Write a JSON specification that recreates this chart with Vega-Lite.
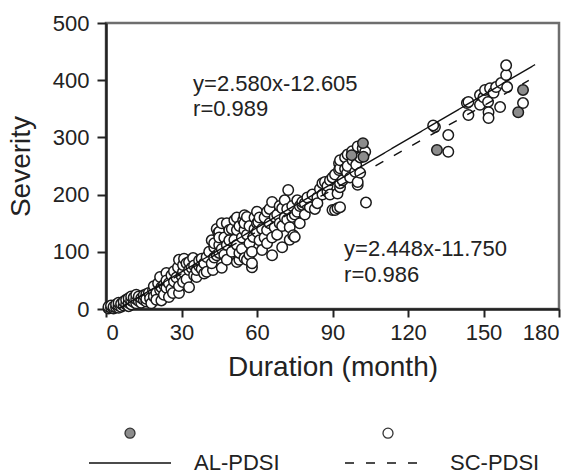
{
  "$schema": "https://vega.github.io/schema/vega-lite/v6.json",
  "width": 453,
  "height": 286,
  "autosize": "none",
  "padding": {"left": 106, "top": 23, "right": 17, "bottom": 165},
  "config": {
    "font": "Liberation Sans",
    "view": {"stroke": "#6e6e6e", "strokeWidth": 2.5},
    "axis": {
      "grid": false,
      "domainColor": "#222222",
      "domainWidth": 2.5,
      "tickColor": "#222222",
      "tickWidth": 2,
      "tickSize": 9,
      "labelFont": "Liberation Sans",
      "labelFontSize": 22,
      "labelColor": "#222222",
      "titleFont": "Liberation Sans",
      "titleFontSize": 28,
      "titleFontWeight": "normal",
      "titleColor": "#222222"
    },
    "legend": {"padding": 0, "labelFont": "Liberation Sans"}
  },
  "datasets": {
    "pts": [
      {"duration": 1, "severity": 1, "index": "SC-PDSI"},
      {"duration": 1, "severity": 4, "index": "SC-PDSI"},
      {"duration": 2, "severity": 2, "index": "SC-PDSI"},
      {"duration": 2, "severity": 6, "index": "SC-PDSI"},
      {"duration": 3, "severity": 1, "index": "SC-PDSI"},
      {"duration": 3, "severity": 4, "index": "SC-PDSI"},
      {"duration": 4, "severity": 3, "index": "SC-PDSI"},
      {"duration": 4, "severity": 8, "index": "SC-PDSI"},
      {"duration": 5, "severity": 2, "index": "SC-PDSI"},
      {"duration": 5, "severity": 6, "index": "SC-PDSI"},
      {"duration": 5, "severity": 11, "index": "SC-PDSI"},
      {"duration": 6, "severity": 4, "index": "SC-PDSI"},
      {"duration": 6, "severity": 9, "index": "SC-PDSI"},
      {"duration": 7, "severity": 6, "index": "SC-PDSI"},
      {"duration": 7, "severity": 13, "index": "SC-PDSI"},
      {"duration": 8, "severity": 8, "index": "SC-PDSI"},
      {"duration": 8, "severity": 16, "index": "SC-PDSI"},
      {"duration": 9, "severity": 5, "index": "SC-PDSI"},
      {"duration": 9, "severity": 11, "index": "SC-PDSI"},
      {"duration": 9, "severity": 19, "index": "SC-PDSI"},
      {"duration": 10, "severity": 8, "index": "SC-PDSI"},
      {"duration": 10, "severity": 15, "index": "SC-PDSI"},
      {"duration": 10, "severity": 22, "index": "SC-PDSI"},
      {"duration": 11, "severity": 12, "index": "SC-PDSI"},
      {"duration": 11, "severity": 20, "index": "SC-PDSI"},
      {"duration": 12, "severity": 10, "index": "SC-PDSI"},
      {"duration": 12, "severity": 17, "index": "SC-PDSI"},
      {"duration": 12, "severity": 25, "index": "SC-PDSI"},
      {"duration": 13, "severity": 14, "index": "SC-PDSI"},
      {"duration": 13, "severity": 22, "index": "SC-PDSI"},
      {"duration": 14, "severity": 11, "index": "SC-PDSI"},
      {"duration": 14, "severity": 19, "index": "SC-PDSI"},
      {"duration": 15, "severity": 16, "index": "SC-PDSI"},
      {"duration": 15, "severity": 24, "index": "SC-PDSI"},
      {"duration": 16, "severity": 13, "index": "SC-PDSI"},
      {"duration": 16, "severity": 26, "index": "SC-PDSI"},
      {"duration": 16, "severity": 18, "index": "SC-PDSI"},
      {"duration": 17, "severity": 28, "index": "SC-PDSI"},
      {"duration": 17.5, "severity": 19, "index": "SC-PDSI"},
      {"duration": 18, "severity": 10, "index": "SC-PDSI"},
      {"duration": 18.7, "severity": 33, "index": "SC-PDSI"},
      {"duration": 19, "severity": 22, "index": "SC-PDSI"},
      {"duration": 19, "severity": 40, "index": "SC-PDSI"},
      {"duration": 20, "severity": 28, "index": "SC-PDSI"},
      {"duration": 20, "severity": 16, "index": "SC-PDSI"},
      {"duration": 20.7, "severity": 45, "index": "SC-PDSI"},
      {"duration": 21.5, "severity": 33, "index": "SC-PDSI"},
      {"duration": 21.5, "severity": 56, "index": "SC-PDSI"},
      {"duration": 22, "severity": 15, "index": "SC-PDSI"},
      {"duration": 22, "severity": 38, "index": "SC-PDSI"},
      {"duration": 23, "severity": 42, "index": "SC-PDSI"},
      {"duration": 23, "severity": 25, "index": "SC-PDSI"},
      {"duration": 24, "severity": 37, "index": "SC-PDSI"},
      {"duration": 24, "severity": 63, "index": "SC-PDSI"},
      {"duration": 24, "severity": 50, "index": "SC-PDSI"},
      {"duration": 25, "severity": 21, "index": "SC-PDSI"},
      {"duration": 25, "severity": 45, "index": "SC-PDSI"},
      {"duration": 26, "severity": 59, "index": "SC-PDSI"},
      {"duration": 26, "severity": 35, "index": "SC-PDSI"},
      {"duration": 26.6, "severity": 28, "index": "SC-PDSI"},
      {"duration": 27, "severity": 48, "index": "SC-PDSI"},
      {"duration": 27, "severity": 66, "index": "SC-PDSI"},
      {"duration": 28, "severity": 55, "index": "SC-PDSI"},
      {"duration": 28.6, "severity": 73, "index": "SC-PDSI"},
      {"duration": 29, "severity": 28, "index": "SC-PDSI"},
      {"duration": 29, "severity": 86, "index": "SC-PDSI"},
      {"duration": 29, "severity": 40, "index": "SC-PDSI"},
      {"duration": 30, "severity": 58, "index": "SC-PDSI"},
      {"duration": 30.6, "severity": 65, "index": "SC-PDSI"},
      {"duration": 30.6, "severity": 47, "index": "SC-PDSI"},
      {"duration": 30.6, "severity": 77, "index": "SC-PDSI"},
      {"duration": 31, "severity": 88, "index": "SC-PDSI"},
      {"duration": 32, "severity": 80, "index": "SC-PDSI"},
      {"duration": 32, "severity": 52, "index": "SC-PDSI"},
      {"duration": 33, "severity": 38, "index": "SC-PDSI"},
      {"duration": 33, "severity": 68, "index": "SC-PDSI"},
      {"duration": 33, "severity": 82, "index": "SC-PDSI"},
      {"duration": 34, "severity": 72, "index": "SC-PDSI"},
      {"duration": 34.6, "severity": 89, "index": "SC-PDSI"},
      {"duration": 35, "severity": 59, "index": "SC-PDSI"},
      {"duration": 35, "severity": 76, "index": "SC-PDSI"},
      {"duration": 36, "severity": 56, "index": "SC-PDSI"},
      {"duration": 36, "severity": 68, "index": "SC-PDSI"},
      {"duration": 37, "severity": 75, "index": "SC-PDSI"},
      {"duration": 37, "severity": 85, "index": "SC-PDSI"},
      {"duration": 38, "severity": 88, "index": "SC-PDSI"},
      {"duration": 38, "severity": 70, "index": "SC-PDSI"},
      {"duration": 39, "severity": 62, "index": "SC-PDSI"},
      {"duration": 39, "severity": 80, "index": "SC-PDSI"},
      {"duration": 40, "severity": 91, "index": "SC-PDSI"},
      {"duration": 40, "severity": 65, "index": "SC-PDSI"},
      {"duration": 41, "severity": 100, "index": "SC-PDSI"},
      {"duration": 42.5, "severity": 68, "index": "SC-PDSI"},
      {"duration": 42, "severity": 80, "index": "SC-PDSI"},
      {"duration": 42, "severity": 120, "index": "SC-PDSI"},
      {"duration": 43, "severity": 108, "index": "SC-PDSI"},
      {"duration": 43, "severity": 115, "index": "SC-PDSI"},
      {"duration": 43, "severity": 90, "index": "SC-PDSI"},
      {"duration": 44, "severity": 94, "index": "SC-PDSI"},
      {"duration": 44, "severity": 140, "index": "SC-PDSI"},
      {"duration": 44.6, "severity": 133, "index": "SC-PDSI"},
      {"duration": 45, "severity": 135, "index": "SC-PDSI"},
      {"duration": 45, "severity": 98, "index": "SC-PDSI"},
      {"duration": 45, "severity": 112, "index": "SC-PDSI"},
      {"duration": 45, "severity": 125, "index": "SC-PDSI"},
      {"duration": 46, "severity": 72, "index": "SC-PDSI"},
      {"duration": 46, "severity": 150, "index": "SC-PDSI"},
      {"duration": 46, "severity": 105, "index": "SC-PDSI"},
      {"duration": 47, "severity": 125, "index": "SC-PDSI"},
      {"duration": 47, "severity": 95, "index": "SC-PDSI"},
      {"duration": 48, "severity": 86, "index": "SC-PDSI"},
      {"duration": 48, "severity": 150, "index": "SC-PDSI"},
      {"duration": 48, "severity": 112, "index": "SC-PDSI"},
      {"duration": 49, "severity": 138, "index": "SC-PDSI"},
      {"duration": 49, "severity": 120, "index": "SC-PDSI"},
      {"duration": 50, "severity": 100, "index": "SC-PDSI"},
      {"duration": 50, "severity": 140, "index": "SC-PDSI"},
      {"duration": 51, "severity": 121, "index": "SC-PDSI"},
      {"duration": 51, "severity": 155, "index": "SC-PDSI"},
      {"duration": 52, "severity": 138, "index": "SC-PDSI"},
      {"duration": 52, "severity": 112, "index": "SC-PDSI"},
      {"duration": 52, "severity": 82, "index": "SC-PDSI"},
      {"duration": 52, "severity": 160, "index": "SC-PDSI"},
      {"duration": 53, "severity": 86, "index": "SC-PDSI"},
      {"duration": 53, "severity": 98, "index": "SC-PDSI"},
      {"duration": 53, "severity": 145, "index": "SC-PDSI"},
      {"duration": 54, "severity": 125, "index": "SC-PDSI"},
      {"duration": 54, "severity": 105, "index": "SC-PDSI"},
      {"duration": 54.5, "severity": 155, "index": "SC-PDSI"},
      {"duration": 55, "severity": 164, "index": "SC-PDSI"},
      {"duration": 55, "severity": 138, "index": "SC-PDSI"},
      {"duration": 55, "severity": 89, "index": "SC-PDSI"},
      {"duration": 55, "severity": 150, "index": "SC-PDSI"},
      {"duration": 56, "severity": 161, "index": "SC-PDSI"},
      {"duration": 56, "severity": 86, "index": "SC-PDSI"},
      {"duration": 56, "severity": 130, "index": "SC-PDSI"},
      {"duration": 57, "severity": 115, "index": "SC-PDSI"},
      {"duration": 57, "severity": 145, "index": "SC-PDSI"},
      {"duration": 57, "severity": 95, "index": "SC-PDSI"},
      {"duration": 58, "severity": 73, "index": "SC-PDSI"},
      {"duration": 58, "severity": 80, "index": "SC-PDSI"},
      {"duration": 58.5, "severity": 126, "index": "SC-PDSI"},
      {"duration": 58, "severity": 100, "index": "SC-PDSI"},
      {"duration": 59, "severity": 140, "index": "SC-PDSI"},
      {"duration": 59, "severity": 160, "index": "SC-PDSI"},
      {"duration": 60, "severity": 170, "index": "SC-PDSI"},
      {"duration": 60, "severity": 150, "index": "SC-PDSI"},
      {"duration": 60, "severity": 135, "index": "SC-PDSI"},
      {"duration": 60.5, "severity": 152, "index": "SC-PDSI"},
      {"duration": 61, "severity": 120, "index": "SC-PDSI"},
      {"duration": 61, "severity": 160, "index": "SC-PDSI"},
      {"duration": 62, "severity": 103, "index": "SC-PDSI"},
      {"duration": 62, "severity": 140, "index": "SC-PDSI"},
      {"duration": 63, "severity": 160, "index": "SC-PDSI"},
      {"duration": 63, "severity": 125, "index": "SC-PDSI"},
      {"duration": 64, "severity": 138, "index": "SC-PDSI"},
      {"duration": 64, "severity": 115, "index": "SC-PDSI"},
      {"duration": 64, "severity": 170, "index": "SC-PDSI"},
      {"duration": 65, "severity": 175, "index": "SC-PDSI"},
      {"duration": 65, "severity": 150, "index": "SC-PDSI"},
      {"duration": 66, "severity": 187, "index": "SC-PDSI"},
      {"duration": 66, "severity": 94, "index": "SC-PDSI"},
      {"duration": 66, "severity": 125, "index": "SC-PDSI"},
      {"duration": 67, "severity": 143, "index": "SC-PDSI"},
      {"duration": 67, "severity": 161, "index": "SC-PDSI"},
      {"duration": 68, "severity": 130, "index": "SC-PDSI"},
      {"duration": 68, "severity": 165, "index": "SC-PDSI"},
      {"duration": 69, "severity": 150, "index": "SC-PDSI"},
      {"duration": 69, "severity": 180, "index": "SC-PDSI"},
      {"duration": 70, "severity": 176, "index": "SC-PDSI"},
      {"duration": 70, "severity": 108, "index": "SC-PDSI"},
      {"duration": 70, "severity": 145, "index": "SC-PDSI"},
      {"duration": 71, "severity": 190, "index": "SC-PDSI"},
      {"duration": 71, "severity": 160, "index": "SC-PDSI"},
      {"duration": 72, "severity": 156, "index": "SC-PDSI"},
      {"duration": 72, "severity": 175, "index": "SC-PDSI"},
      {"duration": 72.4, "severity": 208, "index": "SC-PDSI"},
      {"duration": 73, "severity": 121, "index": "SC-PDSI"},
      {"duration": 73, "severity": 143, "index": "SC-PDSI"},
      {"duration": 74, "severity": 161, "index": "SC-PDSI"},
      {"duration": 74, "severity": 180, "index": "SC-PDSI"},
      {"duration": 74.4, "severity": 129, "index": "SC-PDSI"},
      {"duration": 75, "severity": 126, "index": "SC-PDSI"},
      {"duration": 75, "severity": 165, "index": "SC-PDSI"},
      {"duration": 76, "severity": 170, "index": "SC-PDSI"},
      {"duration": 76, "severity": 190, "index": "SC-PDSI"},
      {"duration": 77, "severity": 150, "index": "SC-PDSI"},
      {"duration": 77, "severity": 180, "index": "SC-PDSI"},
      {"duration": 78, "severity": 182, "index": "SC-PDSI"},
      {"duration": 78, "severity": 187, "index": "SC-PDSI"},
      {"duration": 79, "severity": 165, "index": "SC-PDSI"},
      {"duration": 79, "severity": 185, "index": "SC-PDSI"},
      {"duration": 80, "severity": 195, "index": "SC-PDSI"},
      {"duration": 81, "severity": 178, "index": "SC-PDSI"},
      {"duration": 82, "severity": 200, "index": "SC-PDSI"},
      {"duration": 83, "severity": 175, "index": "SC-PDSI"},
      {"duration": 84, "severity": 195, "index": "SC-PDSI"},
      {"duration": 84, "severity": 185, "index": "SC-PDSI"},
      {"duration": 85, "severity": 210, "index": "SC-PDSI"},
      {"duration": 86, "severity": 220, "index": "SC-PDSI"},
      {"duration": 86, "severity": 200, "index": "SC-PDSI"},
      {"duration": 87, "severity": 222, "index": "SC-PDSI"},
      {"duration": 88, "severity": 205, "index": "SC-PDSI"},
      {"duration": 88, "severity": 215, "index": "SC-PDSI"},
      {"duration": 89, "severity": 225, "index": "SC-PDSI"},
      {"duration": 89, "severity": 200, "index": "SC-PDSI"},
      {"duration": 90, "severity": 173, "index": "SC-PDSI"},
      {"duration": 90, "severity": 230, "index": "SC-PDSI"},
      {"duration": 91, "severity": 173, "index": "SC-PDSI"},
      {"duration": 91, "severity": 235, "index": "SC-PDSI"},
      {"duration": 92, "severity": 176, "index": "SC-PDSI"},
      {"duration": 92, "severity": 202, "index": "SC-PDSI"},
      {"duration": 93, "severity": 178, "index": "SC-PDSI"},
      {"duration": 93, "severity": 213, "index": "SC-PDSI"},
      {"duration": 92.6, "severity": 255, "index": "SC-PDSI"},
      {"duration": 92.6, "severity": 243, "index": "SC-PDSI"},
      {"duration": 93, "severity": 220, "index": "SC-PDSI"},
      {"duration": 93, "severity": 246, "index": "SC-PDSI"},
      {"duration": 93, "severity": 260, "index": "SC-PDSI"},
      {"duration": 94, "severity": 225, "index": "SC-PDSI"},
      {"duration": 95, "severity": 265, "index": "SC-PDSI"},
      {"duration": 95, "severity": 245, "index": "SC-PDSI"},
      {"duration": 95.8, "severity": 238, "index": "SC-PDSI"},
      {"duration": 96, "severity": 250, "index": "SC-PDSI"},
      {"duration": 96, "severity": 270, "index": "SC-PDSI"},
      {"duration": 97, "severity": 230, "index": "SC-PDSI"},
      {"duration": 97.8, "severity": 276, "index": "SC-PDSI"},
      {"duration": 98, "severity": 260, "index": "SC-PDSI"},
      {"duration": 99, "severity": 240, "index": "SC-PDSI"},
      {"duration": 99.4, "severity": 252, "index": "SC-PDSI"},
      {"duration": 100, "severity": 217, "index": "SC-PDSI"},
      {"duration": 100, "severity": 222, "index": "SC-PDSI"},
      {"duration": 100, "severity": 284, "index": "SC-PDSI"},
      {"duration": 101, "severity": 238, "index": "SC-PDSI"},
      {"duration": 101, "severity": 265, "index": "SC-PDSI"},
      {"duration": 102, "severity": 281, "index": "SC-PDSI"},
      {"duration": 103, "severity": 275, "index": "SC-PDSI"},
      {"duration": 103.3, "severity": 186, "index": "SC-PDSI"},
      {"duration": 130.7, "severity": 318, "index": "SC-PDSI"},
      {"duration": 130, "severity": 321, "index": "SC-PDSI"},
      {"duration": 136, "severity": 304, "index": "SC-PDSI"},
      {"duration": 136, "severity": 275, "index": "SC-PDSI"},
      {"duration": 143.4, "severity": 360, "index": "SC-PDSI"},
      {"duration": 144, "severity": 339, "index": "SC-PDSI"},
      {"duration": 144, "severity": 362, "index": "SC-PDSI"},
      {"duration": 148.6, "severity": 374, "index": "SC-PDSI"},
      {"duration": 148.6, "severity": 357, "index": "SC-PDSI"},
      {"duration": 150, "severity": 370, "index": "SC-PDSI"},
      {"duration": 150.6, "severity": 383, "index": "SC-PDSI"},
      {"duration": 152.6, "severity": 386, "index": "SC-PDSI"},
      {"duration": 151.8, "severity": 362, "index": "SC-PDSI"},
      {"duration": 152, "severity": 344, "index": "SC-PDSI"},
      {"duration": 152, "severity": 334, "index": "SC-PDSI"},
      {"duration": 154, "severity": 378, "index": "SC-PDSI"},
      {"duration": 155, "severity": 388, "index": "SC-PDSI"},
      {"duration": 156.6, "severity": 353, "index": "SC-PDSI"},
      {"duration": 157, "severity": 395, "index": "SC-PDSI"},
      {"duration": 159.4, "severity": 388, "index": "SC-PDSI"},
      {"duration": 159, "severity": 409, "index": "SC-PDSI"},
      {"duration": 159, "severity": 426, "index": "SC-PDSI"},
      {"duration": 165.7, "severity": 360, "index": "SC-PDSI"},
      {"duration": 97.6, "severity": 269, "index": "AL-PDSI"},
      {"duration": 102.1, "severity": 290, "index": "AL-PDSI"},
      {"duration": 102.3, "severity": 266, "index": "AL-PDSI"},
      {"duration": 131.5, "severity": 278, "index": "AL-PDSI"},
      {"duration": 165.7, "severity": 383, "index": "AL-PDSI"},
      {"duration": 163.8, "severity": 344, "index": "AL-PDSI"}
    ],
    "fits": [
      {"duration": 5, "severity": 0.3, "fit": "AL"},
      {"duration": 170.5, "severity": 427.3, "fit": "AL"},
      {"duration": 5, "severity": 0.5, "fit": "SC"},
      {"duration": 168, "severity": 399.5, "fit": "SC"}
    ],
    "notes": [
      {"duration": 34.6, "severity": 393, "label": "y=2.580x-12.605"},
      {"duration": 34.6, "severity": 349, "label": "r=0.989"},
      {"duration": 94.6, "severity": 105, "label": "y=2.448x-11.750"},
      {"duration": 94.6, "severity": 60, "label": "r=0.986"}
    ]
  },
  "layer": [
    {
      "data": {"name": "pts"},
      "mark": {"type": "point", "shape": "circle", "filled": true, "size": 110, "stroke": "#1a1a1a", "strokeWidth": 1.5, "opacity": 1},
      "encoding": {
        "x": {
          "field": "duration", "type": "quantitative",
          "scale": {"domain": [0, 180], "nice": false, "zero": false},
          "axis": {"values": [0, 30, 60, 90, 120, 150, 180], "title": "Duration (month)", "labelPadding": 5, "titlePadding": 10, "tickSize": 8}
        },
        "y": {
          "field": "severity", "type": "quantitative",
          "scale": {"domain": [0, 500], "nice": false},
          "axis": {"values": [0, 100, 200, 300, 400, 500], "title": "Severity", "labelPadding": 8, "titlePadding": 17}
        },
        "fill": {
          "field": "index", "type": "nominal",
          "scale": {"domain": ["AL-PDSI", "SC-PDSI"], "range": ["#8c8c8c", "#ffffff"]},
          "legend": {
            "orient": "none", "legendX": 18, "legendY": 404, "direction": "horizontal", "title": null,
            "labelExpr": "''", "labelOffset": 0, "symbolType": "circle", "symbolSize": 100,
            "symbolStrokeColor": "#333333", "symbolStrokeWidth": 1.3, "columnPadding": 242
          }
        }
      }
    },
    {
      "data": {"name": "fits"},
      "mark": {"type": "line", "color": "#111111", "strokeWidth": 1.4},
      "encoding": {
        "x": {"field": "duration", "type": "quantitative"},
        "y": {"field": "severity", "type": "quantitative"},
        "strokeDash": {
          "field": "fit", "type": "nominal",
          "scale": {"domain": ["AL", "SC"], "range": [[1, 0], [9, 12]]},
          "legend": {
            "orient": "none", "legendX": -18, "legendY": 398, "direction": "horizontal", "title": null,
            "labelExpr": "datum.label + '-PDSI'",
            "symbolType": "stroke", "symbolSize": 6724, "symbolStrokeColor": "#111111", "symbolStrokeWidth": 1.5,
            "labelFontSize": 22, "labelColor": "#222222", "labelOffset": 22, "columnPadding": 62
          }
        }
      }
    },
    {
      "data": {"name": "notes"},
      "mark": {"type": "text", "align": "left", "baseline": "middle", "fontSize": 22, "color": "#222222", "font": "Liberation Sans"},
      "encoding": {
        "x": {"field": "duration", "type": "quantitative"},
        "y": {"field": "severity", "type": "quantitative"},
        "text": {"field": "label"}
      }
    }
  ]
}
